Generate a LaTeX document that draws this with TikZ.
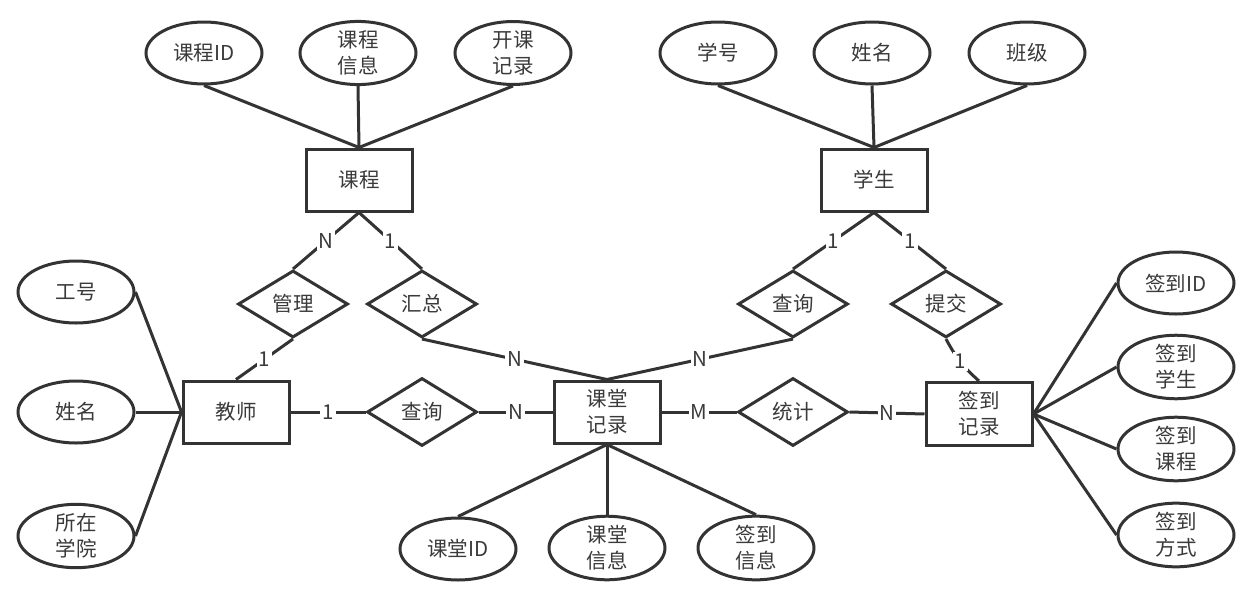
\documentclass[tikz,border=0pt]{standalone}
\usepackage{fontspec}
\newfontfamily\cjk{Noto Sans CJK SC}
\usetikzlibrary{shapes.geometric}
\definecolor{ln}{HTML}{333333}
\definecolor{tx}{HTML}{3A3A3A}
\tikzset{
  lbl/.style={font=\cjk\fontsize{20.5}{26}\selectfont, text=tx, align=center},
  attr/.style={lbl, ellipse, draw=ln, line width=3pt, minimum width=116pt, minimum height=62pt, inner sep=0pt},
  ent/.style={lbl, rectangle, draw=ln, line width=3pt, minimum width=106pt, minimum height=62pt, inner sep=0pt},
  rel/.style={lbl, diamond, draw=ln, line width=3pt, minimum width=110pt, minimum height=67pt, inner sep=0pt},
  conn/.style={draw=ln, line width=3pt},
  card/.style={fill=white, inner sep=2pt, font=\cjk\fontsize{20.5}{24}\selectfont, text=tx}
}
\begin{document}
\begin{tikzpicture}[x=1pt,y=-1pt]
\useasboundingbox[fill=white] (0,0) rectangle (1248,605);
% entities
\node[ent] (kc) at (359,180) {课程};
\node[ent] (xs) at (874,180) {学生};
\node[ent] (js) at (236,412) {教师};
\node[ent] (ktjl) at (607,412) {课堂\\记录};
\node[ent, minimum height=63pt] (qdjl) at (979,414) {签到\\记录};
% attributes
\node[attr] (kcid) at (204,53) {课程ID};
\node[attr] (kcxx) at (358,53) {课程\\信息};
\node[attr] (kkjl) at (513,53) {开课\\记录};
\node[attr] (xh) at (718,53) {学号};
\node[attr] (xm) at (872,53) {姓名};
\node[attr] (bj) at (1027,53) {班级};
\node[attr] (gh) at (76,292) {工号};
\node[attr] (jsxm) at (76,412) {姓名};
\node[attr] (szxy) at (76,536) {所在\\学院};
\node[attr] (ktid) at (458,549) {课堂ID};
\node[attr] (ktxx) at (607,548) {课堂\\信息};
\node[attr] (qdxx) at (756,548) {签到\\信息};
\node[attr] (qdid) at (1176,283) {签到ID};
\node[attr] (qdxs) at (1176,367) {签到\\学生};
\node[attr] (qdkc) at (1176,449) {签到\\课程};
\node[attr] (qdfs) at (1176,535) {签到\\方式};
% relations
\node[rel] (gl) at (293,304) {管理};
\node[rel] (hz) at (422,304) {汇总};
\node[rel] (cx1) at (793,304) {查询};
\node[rel] (tj) at (946,304) {提交};
\node[rel, minimum height=68pt] (cx2) at (422,412) {查询};
\node[rel, minimum height=68pt] (tjj) at (793,412) {统计};
% attribute links
\draw[conn] (kcid.south) -- (kc.north);
\draw[conn] (kcxx.south) -- (kc.north);
\draw[conn] (kkjl.south) -- (kc.north);
\draw[conn] (xh.south) -- (xs.north);
\draw[conn] (xm.south) -- (xs.north);
\draw[conn] (bj.south) -- (xs.north);
\draw[conn] (gh.east) -- (js.west);
\draw[conn] (jsxm.east) -- (js.west);
\draw[conn] (szxy.east) -- (js.west);
\draw[conn] (ktid.north) -- (ktjl.south);
\draw[conn] (ktxx.north) -- (ktjl.south);
\draw[conn] (qdxx.north) -- (ktjl.south);
\draw[conn] (qdid.west) -- (qdjl.east);
\draw[conn] (qdxs.west) -- (qdjl.east);
\draw[conn] (qdkc.west) -- (qdjl.east);
\draw[conn] (qdfs.west) -- (qdjl.east);
% relationship links
\draw[conn] (kc.south) -- node[card] {N} (gl.north);
\draw[conn] (kc.south) -- node[card] {1} (hz.north);
\draw[conn] (gl.south) -- node[card] {1} (js.north);
\draw[conn] (hz.south) -- node[card] {N} (ktjl.north);
\draw[conn] (xs.south) -- node[card] {1} (cx1.north);
\draw[conn] (xs.south) -- node[card] {1} (tj.north);
\draw[conn] (cx1.south) -- node[card] {N} (ktjl.north);
\draw[conn] (tj.south) to[bend right=10] node[card] {1} (qdjl.north);
\draw[conn] (js.east) -- node[card] {1} (cx2.west);
\draw[conn] (cx2.east) -- node[card] {N} (ktjl.west);
\draw[conn] (ktjl.east) -- node[card] {M} (tjj.west);
\draw[conn] (tjj.east) -- node[card] {N} (qdjl.west);
\end{tikzpicture}
\end{document}
